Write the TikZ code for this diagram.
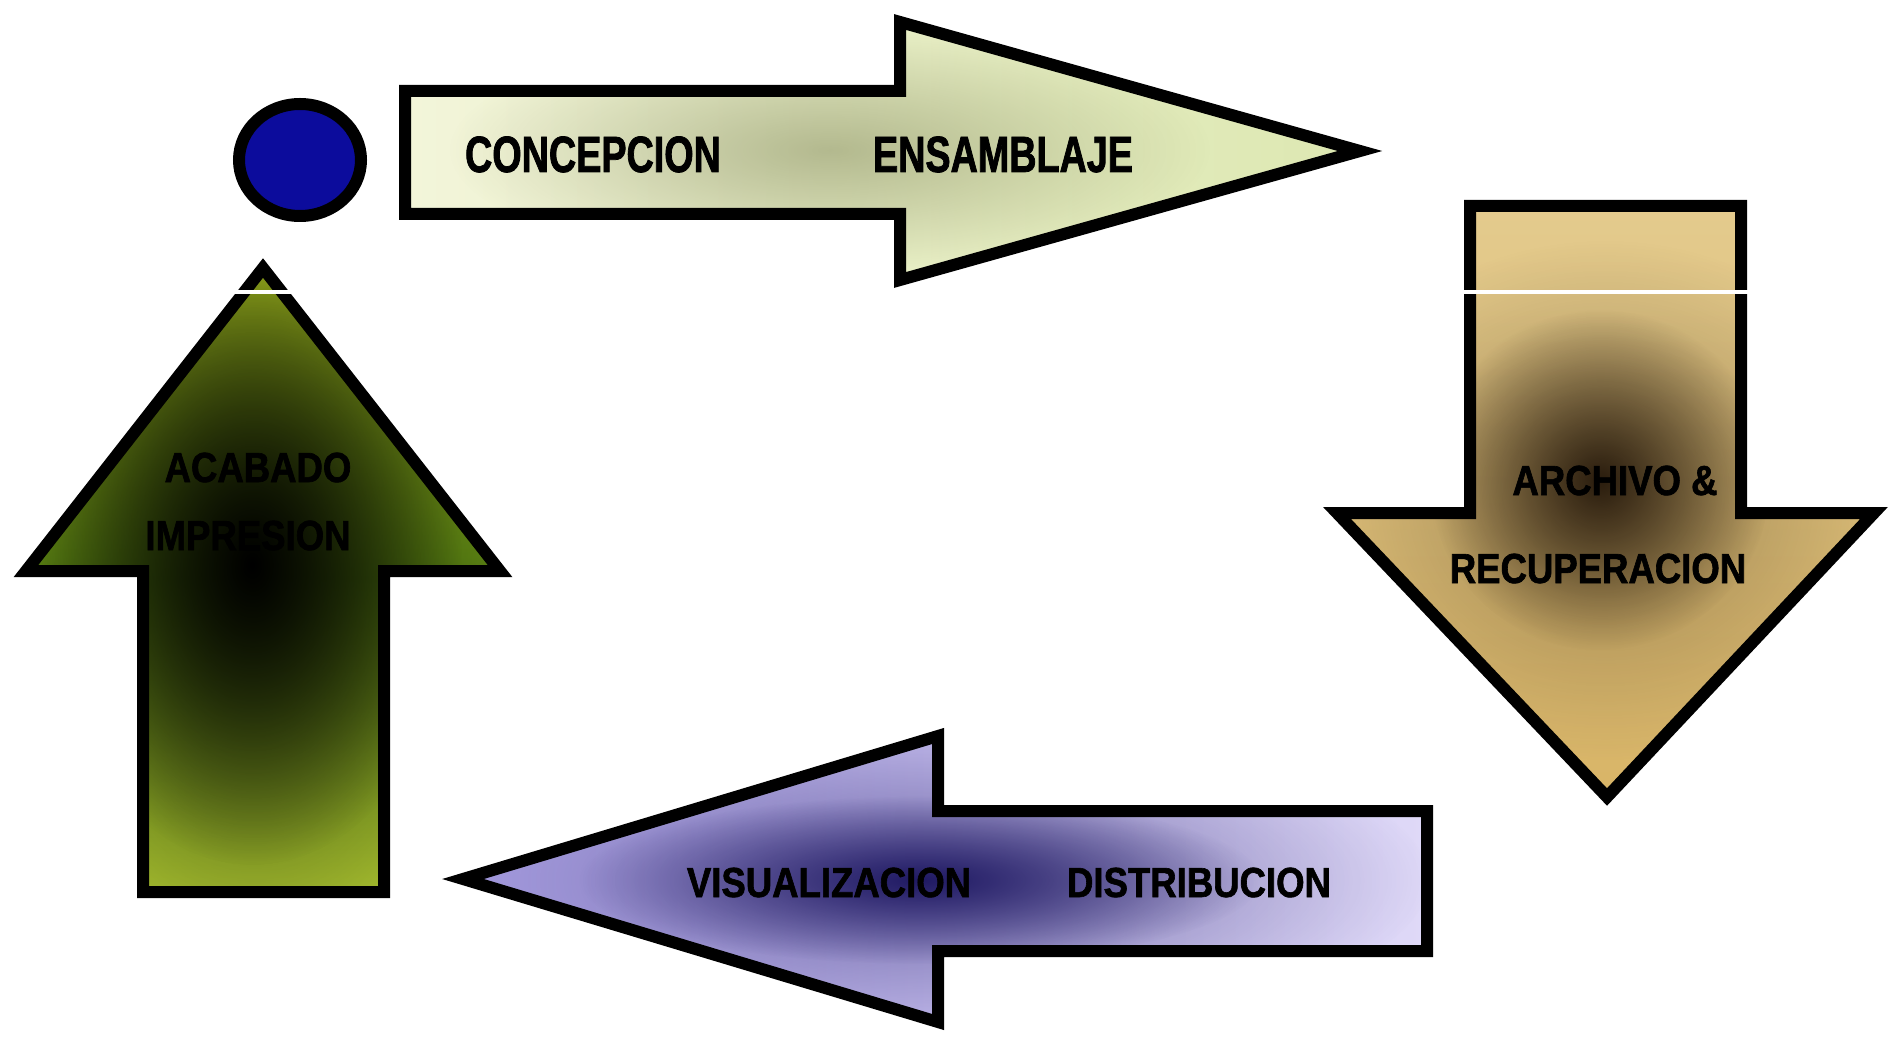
\documentclass[tikz,border=0pt]{standalone}
\usepackage{fontspec}
\setmainfont{Liberation Sans}
% heavy, condensed faces for the stage labels
\newfontface\widelabel{Liberation Sans Bold}[FakeStretch=0.74, FakeBold=1.5]
\newfontface\narrowlabel{Liberation Sans Bold}[FakeStretch=0.87, FakeBold=1.5]
\usetikzlibrary{fadings}
% soft dark spot: opaque centre, fully transparent at half its radius
\tikzfading[name=smudge, inner color=transparent!0, outer color=transparent!100]
\definecolor{dotblue}{HTML}{0C0C9C}
\definecolor{paleA}{HTML}{F3F5DA}
\definecolor{paleB}{HTML}{DCE7B0}
\definecolor{olive}{HTML}{7E8456}
\definecolor{goldA}{HTML}{E4CB8E}
\definecolor{goldB}{HTML}{D8B466}
\definecolor{umber}{HTML}{24170A}
\definecolor{limeA}{HTML}{BCD224}
\definecolor{limeB}{HTML}{5E8A14}
\definecolor{limeC}{HTML}{C2DA38}
\definecolor{lilacA}{HTML}{A79DE2}
\definecolor{lilacB}{HTML}{E0DAF8}
\definecolor{navy}{HTML}{1C1660}
\begin{document}
\begin{tikzpicture}[x=0.5pt,y=-0.5pt,
  outline/.style={draw=black, line width=6pt, line join=miter, miter limit=10},
  toplbl/.style={font=\widelabel\fontsize{25.5}{27}\selectfont, text=black, inner sep=0pt, anchor=base},
  lbl/.style={font=\narrowlabel\fontsize{21}{23}\selectfont, text=black, inner sep=0pt, anchor=base},
  scratch/.style={draw=white, line width=1.6pt}]
\useasboundingbox[fill=white] (0,0) rectangle (1894,1037);

% arrow outlines (stroke centre lines)
\def\toparrow{(405,91) -- (900,91) -- (900,22) -- (1360,151) -- (900,280) -- (900,214) -- (405,214) -- cycle}
\def\rightarrow{(1470,206) -- (1741,206) -- (1741,513) -- (1874,513) -- (1607,797) -- (1337,513) -- (1470,513) -- cycle}
\def\bottomarrow{(1427,811) -- (1427,951) -- (938,951) -- (938,1022) -- (463,879) -- (938,736) -- (938,811) -- cycle}
\def\leftarrow{(143,892) -- (143,571) -- (26,571) -- (263,268) -- (500,571) -- (384,571) -- (384,892) -- cycle}

% top arrow: pale yellow-green, olive haze in the middle
\begin{scope}
  \clip \toparrow;
  \shade[left color=paleA, right color=paleB] (400,10) rectangle (1390,295);
  \fill[olive, opacity=0.5, path fading=smudge] (830,150) ellipse (190pt and 60pt);
\end{scope}
\draw[outline] \toparrow;

% right arrow: gold, dark umber core
\begin{scope}
  \clip \rightarrow;
  \shade[top color=goldA, bottom color=goldB] (1320,195) rectangle (1894,810);
  \fill[umber, opacity=0.35, path fading=smudge] (1605,500) ellipse (150pt and 130pt);
  \fill[umber, opacity=0.95, path fading=smudge] (1600,480) ellipse (85pt and 85pt);
\end{scope}
\draw[outline] \rightarrow;

% bottom arrow: lilac, navy core
\begin{scope}
  \clip \bottomarrow;
  \shade[left color=lilacA, right color=lilacB] (440,725) rectangle (1440,1035);
  \fill[navy, opacity=0.5, path fading=smudge] (930,880) ellipse (250pt and 80pt);
  \fill[navy, opacity=0.95, path fading=smudge] (920,880) ellipse (170pt and 42pt);
\end{scope}
\draw[outline] \bottomarrow;

% left arrow: lime green, near-black core
\begin{scope}
  \clip \leftarrow;
  \shade[top color=limeA, bottom color=limeC, middle color=limeB] (10,255) rectangle (515,900);
  \fill[black!70!limeB, opacity=0.75, path fading=smudge] (255,580) ellipse (150pt and 240pt);
  \fill[black, opacity=1, path fading=smudge] (252,565) ellipse (105pt and 150pt);
\end{scope}
\draw[outline] \leftarrow;

% start dot
\draw[outline, fill=dotblue] (300,160) ellipse (30.5pt and 28pt);

% white scratch marks across two of the arrows
\draw[scratch] (230,292) coordinate (sa) -- (292,292) coordinate (sb);
\draw[scratch] (1460,292) coordinate (sc) -- (1753,292) coordinate (sd);

% stage labels
\node[toplbl] (concepcion) at (593,172) {CONCEPCION};
\node[toplbl] (ensamblaje) at (1003,172) {ENSAMBLAJE};
\node[lbl] (archivo) at (1615,495) {ARCHIVO \&};
\node[lbl] (recuperacion) at (1598,583) {RECUPERACION};
\node[lbl] (visualizacion) at (829,897) {VISUALIZACION};
\node[lbl] (distribucion) at (1199,897) {DISTRIBUCION};
\node[lbl] (acabado) at (258,482) {ACABADO};
\node[lbl] (impresion) at (248,550) {IMPRESION};
\end{tikzpicture}
\end{document}
